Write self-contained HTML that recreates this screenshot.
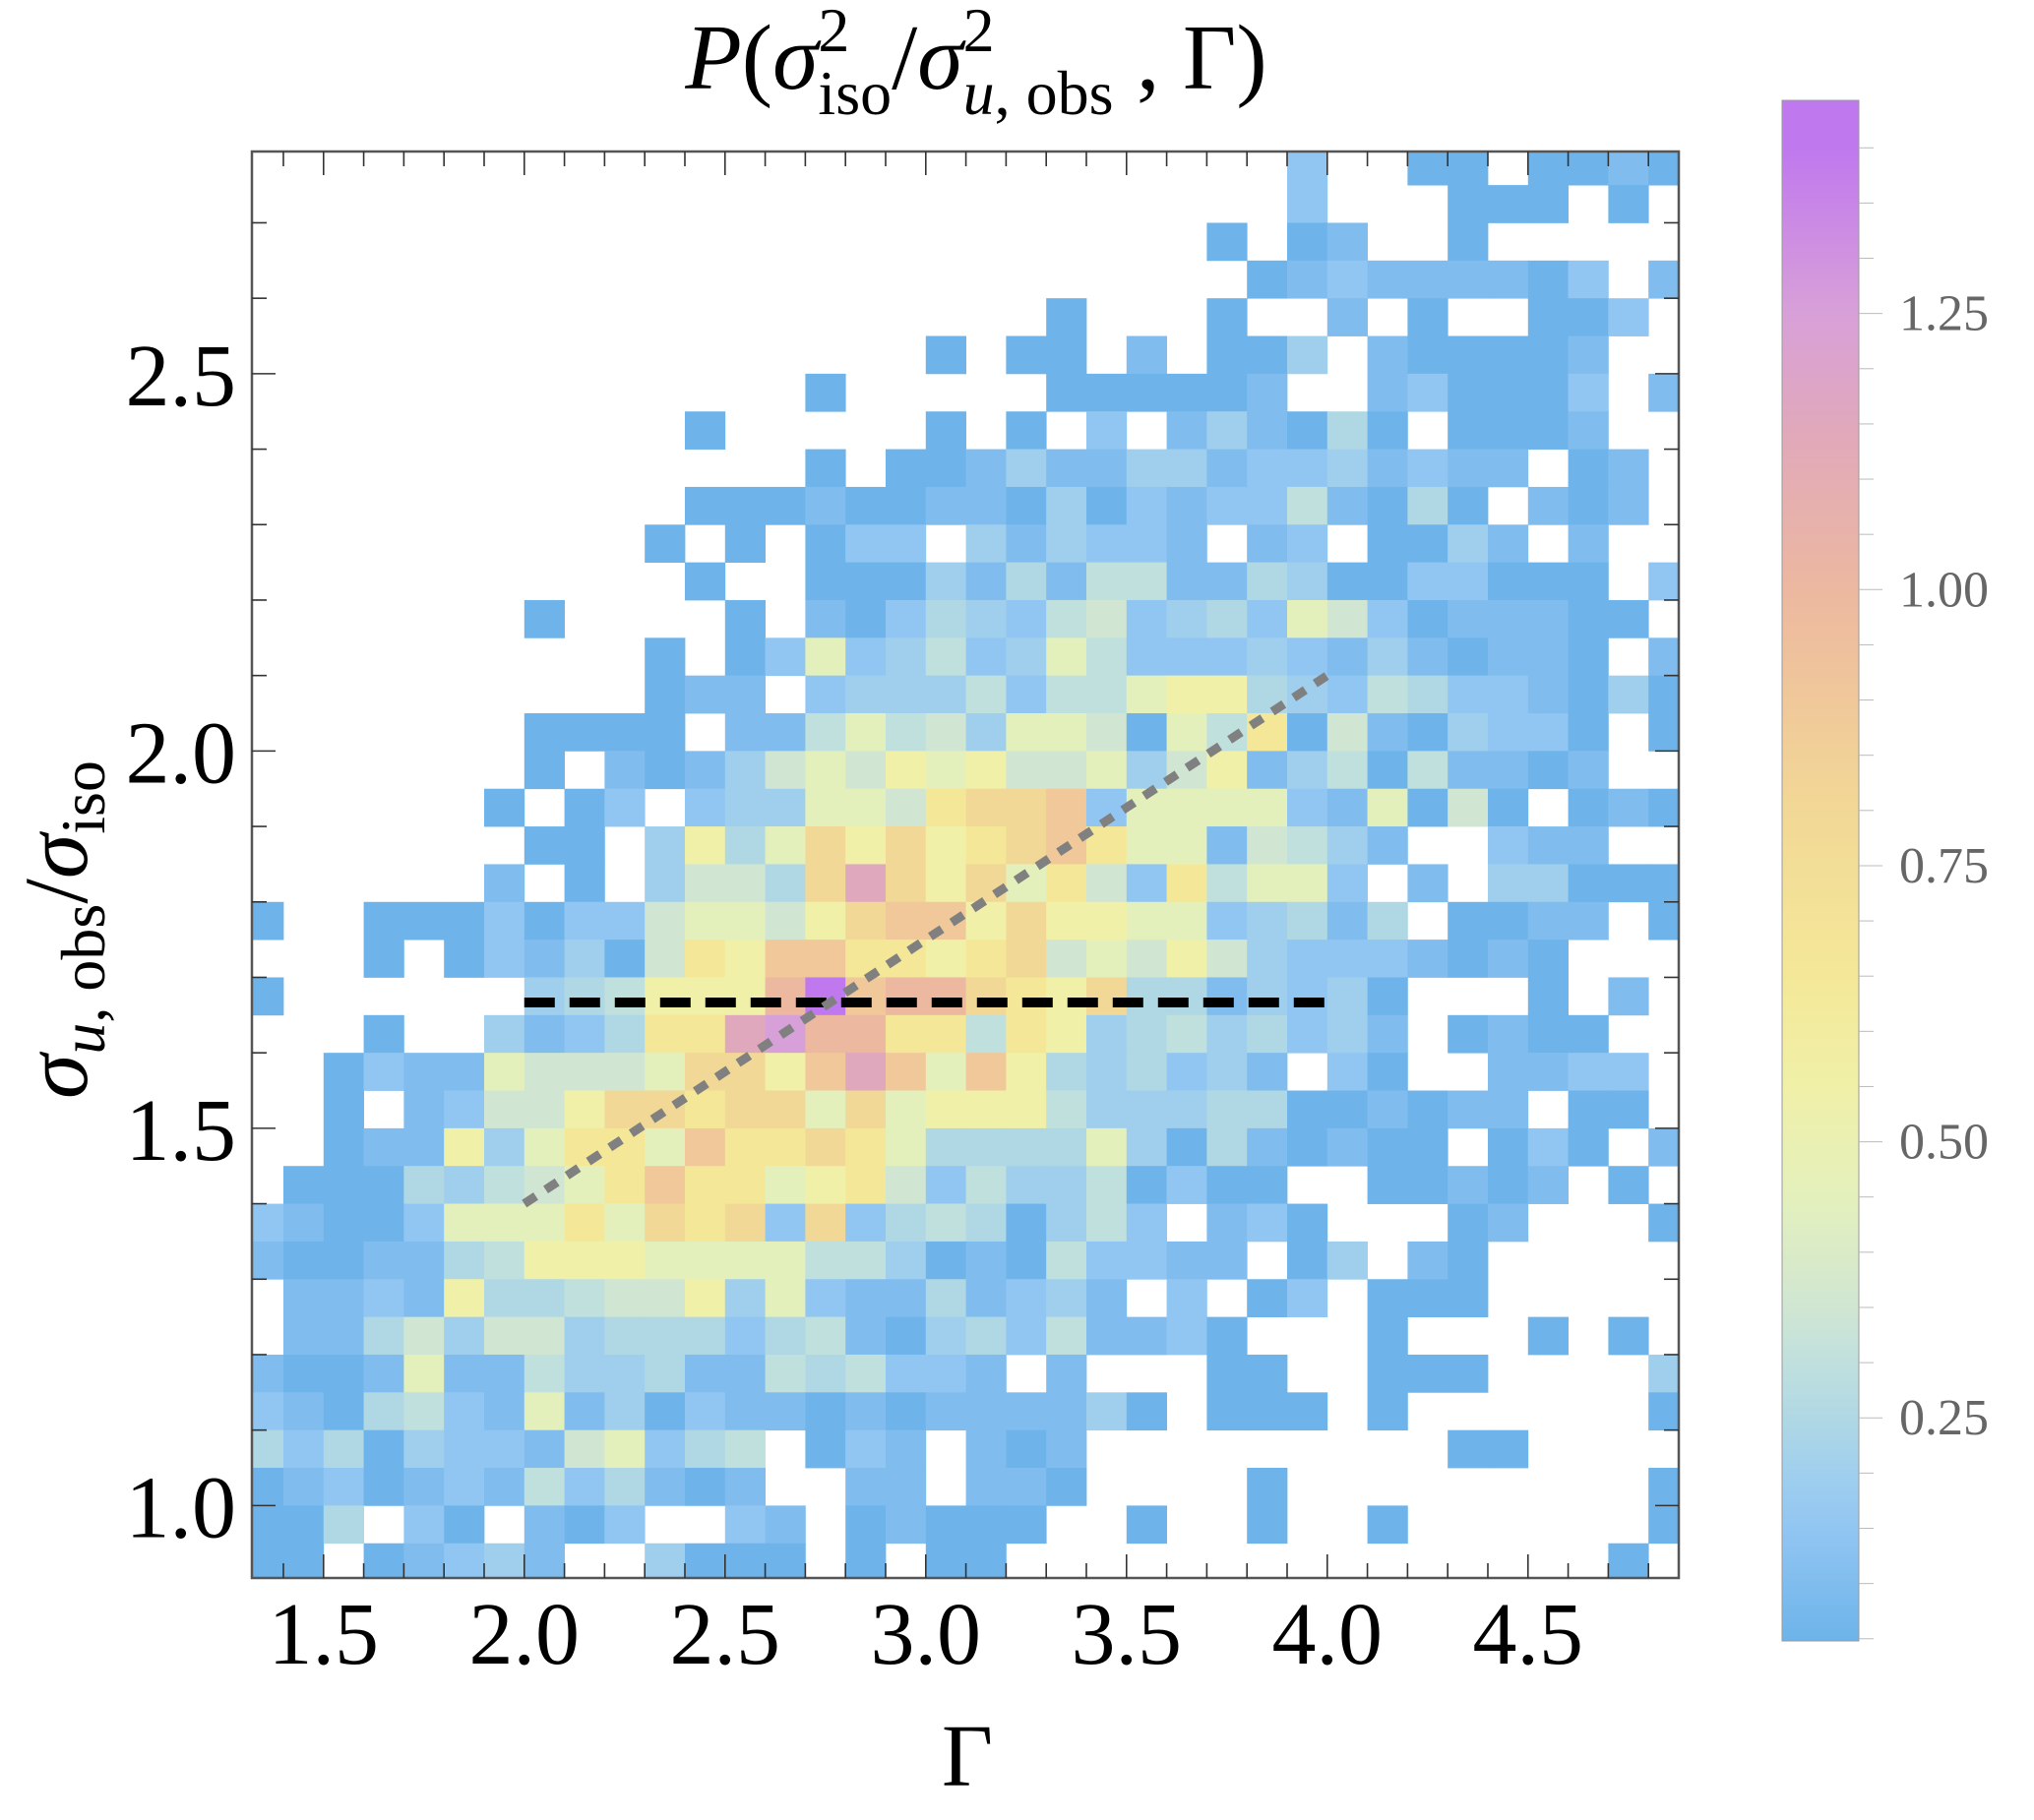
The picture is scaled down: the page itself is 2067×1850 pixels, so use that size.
<!DOCTYPE html>
<html><head><meta charset="utf-8"><style>
html,body{margin:0;padding:0;background:#fff;}
svg{display:block;}
text{font-family:"Liberation Serif","DejaVu Serif",serif;}
</style></head><body>
<svg id="chart" width="2067" height="1850" viewBox="0 0 2067 1850" xmlns="http://www.w3.org/2000/svg">
<defs>
<clipPath id="plotclip"><rect x="256" y="154" width="1450" height="1450"/></clipPath>
<linearGradient id="cbgrad" x1="0" y1="1" x2="0" y2="0"></linearGradient>
</defs>
<text x="992" y="90" font-size="94" text-anchor="middle"><tspan font-style="italic">P</tspan>(<tspan font-style="italic">σ</tspan><tspan font-size="64" dy="-38">2</tspan><tspan font-size="64" dx="-32" dy="64">iso</tspan><tspan dy="-26">/</tspan><tspan font-style="italic">σ</tspan><tspan font-size="64" dy="-38">2</tspan><tspan font-size="64" dx="-32" dy="64"><tspan font-style="italic">u</tspan>, obs</tspan><tspan dy="-26"> , Γ)</tspan></text>
<g id="cells" clip-path="url(#plotclip)"></g>
<g id="axes"></g>
<g id="lines"></g>
<text x="983" y="1815" font-size="90" text-anchor="middle">Γ</text>
<text transform="translate(88,945) rotate(-90)" font-size="92" text-anchor="middle"><tspan font-style="italic">σ</tspan><tspan font-size="64" dy="18"><tspan font-style="italic">u</tspan>, obs</tspan><tspan dy="-18">/</tspan><tspan font-style="italic">σ</tspan><tspan font-size="64" dy="18">iso</tspan></text>
<g id="colorbar"></g>
</svg>
<script>
// ---- data ----
const levelChars = "123456789abcdefg";
const levelValues = [0.05,0.10,0.15,0.20,0.25,0.30,0.35,0.45,0.55,0.65,0.80,0.90,1.00,1.15,1.25,1.40];
// bin edges
const gammaBinStart = 1.3;   // first column left edge
const gammaBinWidth = 0.1;
const sigmaBinTop = 2.8;     // first row top edge
const sigmaBinHeight = 0.05;
// rows top (2.80) to bottom (0.90), columns Γ 1.3 .. 4.9; '.' = empty
const rowBins = [
"..........................3..11.1121",
"..........................3...111.1.",
"........................1.12..1.....",
".........................123222213.2",
"....................1...1..2.1..113.",
".................1.11.2.114.211112..",
"..............1.....111112..231113.2",
"...........1.....1.1.3.242151.1112..",
"..............1.1124224423342322.12.",
"...........11121122141323362151.212.",
"..........1.1.133.424332.23.1142.2..",
"...........1..11142526622541133111.3",
".......1....1.213543673453873122211.",
"..........1.1383463486333432421221.2",
"..........122.3444636689954365332141",
".......1111.2268674887186a17214331.1",
".......1.2124787989778479246162212..",
"......1.13.344887abbc38888328171.121",
".......11.4958b9b9abca8827642..322..",
"......2.1.4775beb9b8a73a6883.2.44111",
"1..111313378879bcc9b998834525.1122.1",
"...1.132417a9ccaa9ab7879743332121...",
"1......456999dgcddba9b5524341...1.2.",
"...1..4235aaefddaa6a945645342.1211..",
"..132287778bb9cec8c9545342.31..2233.",
"..1.23779bbabb8b8999644455112122.11.",
"..122948aa8caaba85555841521211.131.2",
".11154678acaa89a7364461311..11212.1.",
"32113888a8bab3b35651463.231...12...1",
"2112256999888866412163322.14.21.....",
".223295567794832252342.3.13.111.....",
".225747745553562145362231...1...1.1.",
"2112822644522656332.2...11..111....4",
"32156328241322121222241.111.1......1",
"5351433278356.132.212.........11....",
"1231232635212..22.221....1.........1",
"115.31.213..32.12111..1..1..1......1",
"11.12342..4111.1.11...............1."
];
const colorbarTicks = [0.25,0.50,0.75,1.00,1.25];
const colorbarLabels = ["0.25","0.50","0.75","1.00","1.25"];
const xTickValues = [1.5,2.0,2.5,3.0,3.5,4.0,4.5];
const xTickLabels = ["1.5","2.0","2.5","3.0","3.5","4.0","4.5"];
const yTickValues = [1.0,1.5,2.0,2.5];
const yTickLabels = ["1.0","1.5","2.0","2.5"];
const hLineGamma = [2.0,4.0];
const hLineSigma = [1.6667,1.6667];
const fitLineGamma = [2.0,4.0];
const fitLineSigma = [1.40,2.10];

// ---- scales ----
const X0=256, X1=1706, Y0=154, Y1=1604;
const GMIN=1.3216, GMAX=1.3216+1450/408;
const SMIN=0.904, SMAX=0.904+1450/767;
function xs(g){return X0+(g-GMIN)/(GMAX-GMIN)*(X1-X0);}
function ys(s){return Y1-(s-SMIN)/(SMAX-SMIN)*(Y1-Y0);}
const CBMIN=0.048, CBMAX=1.443, CBY0=102, CBY1=1668;
function cby(v){return CBY1-(v-CBMIN)/(CBMAX-CBMIN)*(CBY1-CBY0);}

const stops=[[0.05,"#6eb4ea"],[0.10,"#80bdee"],[0.15,"#92c6f2"],[0.20,"#a0cfee"],[0.25,"#b0d8e4"],[0.30,"#c0e0de"],[0.35,"#d0e6d2"],[0.45,"#e4f0bc"],[0.55,"#f0f0a8"],[0.65,"#f4e898"],[0.80,"#f2d896"],[0.90,"#f0c89a"],[1.00,"#ecb8a0"],[1.15,"#e0a8bc"],[1.25,"#d8a0d8"],[1.40,"#c078ee"]];
function hex(c){return [1,3,5].map(i=>parseInt(c.substr(i,2),16));}
function color(v){
  if(v<=stops[0][0])return stops[0][1];
  for(let i=1;i<stops.length;i++){
    if(v<=stops[i][0]){
      const t=(v-stops[i-1][0])/(stops[i][0]-stops[i-1][0]);
      const a=hex(stops[i-1][1]),b=hex(stops[i][1]);
      return "rgb("+a.map((x,k)=>Math.round(x+(b[k]-x)*t)).join(",")+")";
    }
  }
  return stops[stops.length-1][1];
}
const NS="http://www.w3.org/2000/svg";
function mk(tag,attrs,parent){const e=document.createElementNS(NS,tag);for(const k in attrs)e.setAttribute(k,attrs[k]);parent.appendChild(e);return e;}

// ---- cells ----
const cells=document.getElementById("cells");
rowBins.forEach((row,j)=>{
  for(let i=0;i<row.length;i++){
    const ch=row[i]; if(ch===".")continue;
    const v=levelValues[levelChars.indexOf(ch)];
    const g0=gammaBinStart+i*gammaBinWidth, s1=sigmaBinTop-j*sigmaBinHeight;
    const x=xs(g0), x2=xs(g0+gammaBinWidth), y=ys(s1), y2=ys(s1-sigmaBinHeight);
    const r=mk("rect",{x:x.toFixed(2),y:y.toFixed(2),width:(x2-x+0.4).toFixed(2),height:(y2-y+0.4).toFixed(2),fill:color(v)},cells);
    
    
  }
});

// ---- axes ----
const axes=document.getElementById("axes");
const fr=mk("rect",{x:X0,y:Y0,width:X1-X0,height:Y1-Y0,fill:"none",stroke:"#555",'stroke-width':2.5},axes);


for(let k=14;k<=48;k++){
  const g=k/10, x=xs(g), major=(k%5===0), L=major?24:15;
  mk("line",{x1:x,y1:Y1,x2:x,y2:Y1-L,stroke:"#333",'stroke-width':1.6},axes);
  mk("line",{x1:x,y1:Y0,x2:x,y2:Y0+L,stroke:"#333",'stroke-width':1.6},axes);
}
for(let k=10;k<=27;k++){
  const s=k/10, y=ys(s), major=(k%5===0), L=major?24:15;
  mk("line",{x1:X0,y1:y,x2:X0+L,y2:y,stroke:"#333",'stroke-width':1.6},axes);
  mk("line",{x1:X1,y1:y,x2:X1-L,y2:y,stroke:"#333",'stroke-width':1.6},axes);
}
xTickValues.forEach((g,i)=>{
  const t=mk("text",{x:xs(g),y:1691,'font-size':90,'text-anchor':'middle'},axes);
  t.textContent=xTickLabels[i];
  
  
});
yTickValues.forEach((s,i)=>{
  const t=mk("text",{x:240,y:ys(s)+32,'font-size':90,'text-anchor':'end'},axes);
  t.textContent=yTickLabels[i];
  
  
});

// ---- reference lines ----
const lines=document.getElementById("lines");
const hl=mk("line",{x1:xs(hLineGamma[0]),y1:ys(hLineSigma[0]),x2:xs(hLineGamma[1]),y2:ys(hLineSigma[1]),stroke:"#000",'stroke-width':10,'stroke-dasharray':'31 15'},lines);


const fl=mk("line",{x1:xs(fitLineGamma[0]),y1:ys(fitLineSigma[0]),x2:xs(fitLineGamma[1]),y2:ys(fitLineSigma[1]),stroke:"#808080",'stroke-width':9,'stroke-dasharray':'14 12'},lines);



// ---- colorbar ----
const grad=document.getElementById("cbgrad");
stops.forEach(s=>{
  const off=(s[0]-CBMIN)/(CBMAX-CBMIN);
  mk("stop",{offset:Math.max(0,Math.min(1,off)),'stop-color':s[1]},grad);
});
const cb=document.getElementById("colorbar");
const bar=mk("rect",{x:1811,y:CBY0,width:78,height:CBY1-CBY0,fill:"url(#cbgrad)",stroke:"#999",'stroke-width':1},cb);


for(let k=1;k<=28;k++){
  const v=k*0.05; if(v<CBMIN||v>CBMAX)continue;
  const y=cby(v), major=(k%5===0);
  mk("line",{x1:1889,y1:y,x2:major?1913:1904,y2:y,stroke:"#bbb",'stroke-width':1},cb);
}
colorbarTicks.forEach((v,i)=>{
  const t=mk("text",{x:1930,y:cby(v)+17,'font-size':52,fill:"#666"},cb);
  t.textContent=colorbarLabels[i];
  
  
});
</script>
</body></html>
